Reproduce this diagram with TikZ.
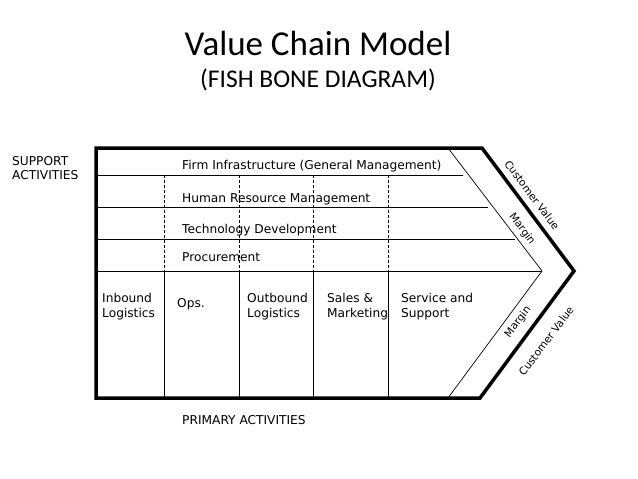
\documentclass[tikz,border=0pt]{standalone}
\usepackage{fontspec}
\setmainfont{DejaVu Sans}
\newfontfamily\calibri{Carlito}
\usetikzlibrary{positioning}
\tikzset{
  ttl/.style={font=\calibri\fontsize{35}{40}\selectfont, inner sep=0pt, anchor=base},
  sub/.style={font=\calibri\fontsize{25.5}{30}\selectfont, inner sep=0pt, anchor=base},
  lbl/.style={font=\fontsize{12.2}{15}\selectfont, inner sep=0pt, anchor=base west},
  col/.style={font=\fontsize{12.2}{15}\selectfont, inner sep=0pt, anchor=north west, align=left},
  rot/.style={font=\fontsize{10.5}{12}\selectfont, inner sep=0pt},
  bone/.style={line width=3.5pt, line join=miter},
  rib/.style={line width=1pt},
  mrg/.style={line width=0.7pt},
  dsh/.style={line width=1pt, dash pattern=on 3pt off 2pt}
}
\begin{document}
\begin{tikzpicture}[x=1pt, y=-1pt]
  \useasboundingbox (0,0) rectangle (638,479);
  % title
  \node[ttl] (title) at (318,55) {Value Chain Model};
  \node[sub] (subtitle) at (318,87) {(FISH BONE DIAGRAM)};
  % margin
  \draw[mrg] (448,148) -- (542,271) -- (448,398);
  % support rows and columns
  \foreach \y/\xe in {175/463, 207/488, 239/515, 271/542}
    \draw[rib] (96,\y) -- (\xe,\y);
  \foreach \x in {164,239,313,388} {
    \draw[dsh] (\x,175) -- (\x,271);
    \draw[rib] (\x,271) -- (\x,398);
  }
  % fish outline
  \draw[bone] (96,148) -- (482,148) -- (574,271) -- (480,398) -- (96,398) -- cycle;
  % support activities
  \node[lbl] (sup) at (12,165) {SUPPORT};
  \node[lbl] (act) at (12,179) {ACTIVITIES};
  \node[lbl] (firm) at (182,169) {Firm Infrastructure (General Management)};
  \node[lbl] (hrm) at (182,202) {Human Resource Management};
  \node[lbl] (tech) at (182,233) {Technology Development};
  \node[lbl] (proc) at (182,261) {Procurement};
  % primary activities
  \node[col] (inb) at (102,293) {Inbound\\Logistics};
  \node[col] (ops) at (177,298) {Ops.};
  \node[col] (outb) at (247,293) {Outbound\\Logistics};
  \node[col] (sales) at (327,293) {Sales \&\\Marketing};
  \node[col] (serv) at (401,293) {Service and\\Support};
  \node[lbl] (prim) at (182,424) {PRIMARY ACTIVITIES};
  % value and margin
  \node[rot, rotate=-53] (cvup) at (532,195) {Customer Value};
  \node[rot, rotate=-53] (mup) at (522,229) {Margin};
  \node[rot, rotate=53] (mlo) at (518,322) {Margin};
  \node[rot, rotate=53] (cvlo) at (546,341) {Customer Value};
\end{tikzpicture}
\end{document}
